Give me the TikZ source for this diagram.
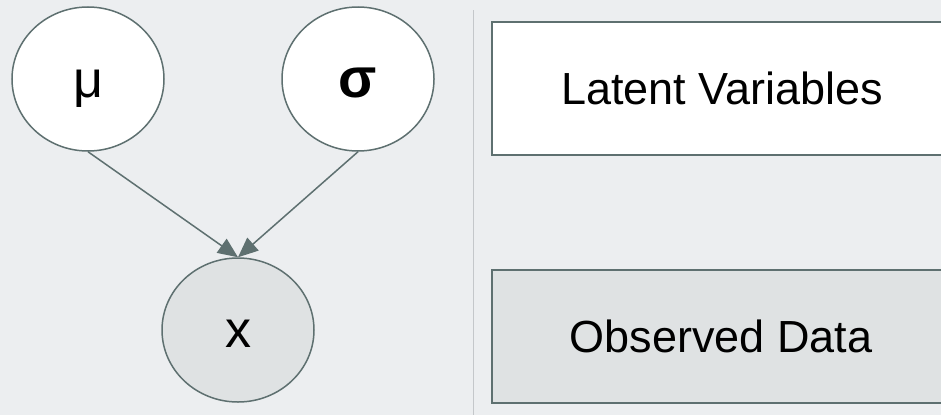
\documentclass[tikz,border=0pt]{standalone}
\usepackage{fontspec}
\setmainfont{Liberation Sans}
\usetikzlibrary{arrows.meta,shapes.geometric}
\definecolor{bg}{HTML}{ECEEF0}
\definecolor{edgec}{HTML}{5E7070}
\definecolor{obsfill}{HTML}{DFE2E3}
\definecolor{sepc}{HTML}{C4C7CA}
\tikzset{
  varnode/.style={ellipse, draw=edgec, line width=1.5pt, minimum width=152pt, minimum height=144pt, inner sep=0pt, font=\fontsize{52}{56}\selectfont, text depth=0pt},
  latentvar/.style={varnode, fill=white, text height=36pt},
  obsvar/.style={varnode, fill=obsfill, text height=34pt},
  legendbox/.style={draw=edgec, line width=2pt, minimum width=470pt, minimum height=133pt, inner sep=0pt},
  legendtext/.style={font=\fontsize{45}{50}\selectfont},
  link/.style={draw=edgec, line width=1.5pt, -{Triangle[length=20pt,width=17pt]}},
}
\begin{document}
\begin{tikzpicture}[x=1pt,y=-1pt]
\fill[bg] (0,0) rectangle (941,415);
\useasboundingbox (0,0) rectangle (941,415);
\node[latentvar] (mu) at (88,79) {μ};
\node[latentvar] (sigma) at (358,79) {\fontsize{56}{60}\selectfont\bfseries σ};
\node[obsvar] (x) at (238,330) {x};
\coordinate (septop) at (473,10);
\coordinate (sepbot) at (473,415);
\draw[sepc, line width=1pt] (septop) -- (sepbot);
\node[legendbox, fill=white, anchor=west] (latent) at (491,88.5) {};
\node[legendbox, fill=obsfill, anchor=west] (observed) at (491,336.5) {};
\node[legendtext] (latentlbl) at (722,88.5) {Latent Variables};
\node[legendtext] (observedlbl) at (721,336.5) {Observed Data};
\draw[link] (mu.south) -- (x.north);
\draw[link] (sigma.south) -- (x.north);
\end{tikzpicture}
\end{document}
